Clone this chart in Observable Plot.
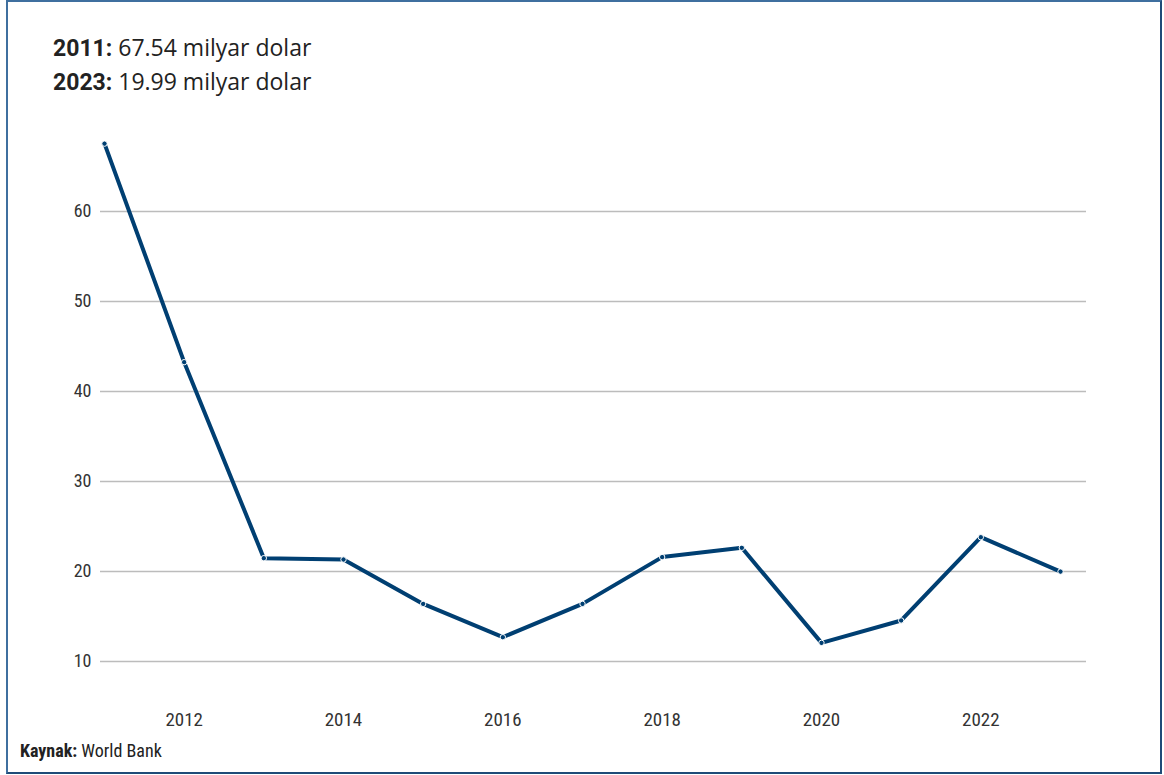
<!DOCTYPE html>
<html>
<head>
<meta charset="utf-8">
<script src="https://cdn.jsdelivr.net/npm/d3@7"></script>
<script src="https://cdn.jsdelivr.net/npm/@observablehq/plot@0.6"></script>
<style>
  html, body { margin: 0; padding: 0; background: #fff; }
  body { width: 1164px; height: 775px; position: relative; overflow: hidden; }
  #frame { position: absolute; left: 6px; top: 0px; width: 1152px; height: 770px;
           border: 2px solid #3f6f9f; border-right-color: #1f4b78; border-bottom-color: #1f4b78; }
  #title { position: absolute; left: 53px; top: 31px; font-family: "Open Sans", "Lato", sans-serif;
           font-size: 23px; color: #222; line-height: 33px; }
  #title b { font-family: Roboto, "Liberation Sans Narrow", sans-serif; font-weight: 700; }
  #caption { position: absolute; left: 20px; top: 740px; font-family: "Liberation Sans Narrow", "Roboto Condensed", Roboto, sans-serif;
             font-size: 18px; color: #222; }
  #chart { position: absolute; left: 0; top: 0; }
</style>
</head>
<body>
<div id="frame"></div>
<div id="chart"></div>
<div id="title"><div><b>2011:</b> 67.54 milyar dolar</div><div><b>2023:</b> 19.99 milyar dolar</div></div>
<div id="caption"><b>Kaynak:</b> World Bank</div>
<script>
const years = [2011, 2012, 2013, 2014, 2015, 2016, 2017, 2018, 2019, 2020, 2021, 2022, 2023];
const values = [67.54, 43.26, 21.48, 21.33, 16.4, 12.7, 16.4, 21.6, 22.63, 12.07, 14.56, 23.81, 19.99];
const yTicks = [10, 20, 30, 40, 50, 60];
const xTicks = [2012, 2014, 2016, 2018, 2020, 2022];

const data = years.map((y, i) => ({year: y, value: values[i]}));
const lineColor = "#003f72";

const chart = Plot.plot({
  width: 1164,
  height: 775,
  marginLeft: 100,
  marginRight: 78,
  marginTop: 121,
  marginBottom: 69,
  insetLeft: 4,
  insetRight: 26,
  style: { fontFamily: "'Liberation Sans Narrow', 'Roboto Condensed', Roboto, sans-serif", fontSize: "18px", color: "#333", background: "transparent" },
  x: { domain: [2011, 2023], ticks: xTicks, tickFormat: "d", tickSize: 0, tickPadding: 6, label: null },
  y: { domain: [5, 70], ticks: yTicks, tickSize: 0, tickPadding: 9, label: null },
  marks: [
    Plot.ruleY(yTicks, { stroke: "#bcbcbc", strokeWidth: 1.3 }),
    Plot.axisX({ ticks: xTicks, tickFormat: "d", tickSize: 0, tickPadding: 6, fontSize: 19, fill: "#333", label: null }),
    Plot.axisY({ ticks: yTicks, tickSize: 0, tickPadding: 9, fontSize: 18, fill: "#333", label: null }),
    Plot.line(data, { x: "year", y: "value", stroke: lineColor, strokeWidth: 4, strokeLinejoin: "round", strokeLinecap: "round" }),
    Plot.dot(data, { x: "year", y: "value", r: 2.7, fill: lineColor, stroke: "#fff", strokeWidth: 1 })
  ]
});
document.getElementById("chart").appendChild(chart);
</script>
</body>
</html>
